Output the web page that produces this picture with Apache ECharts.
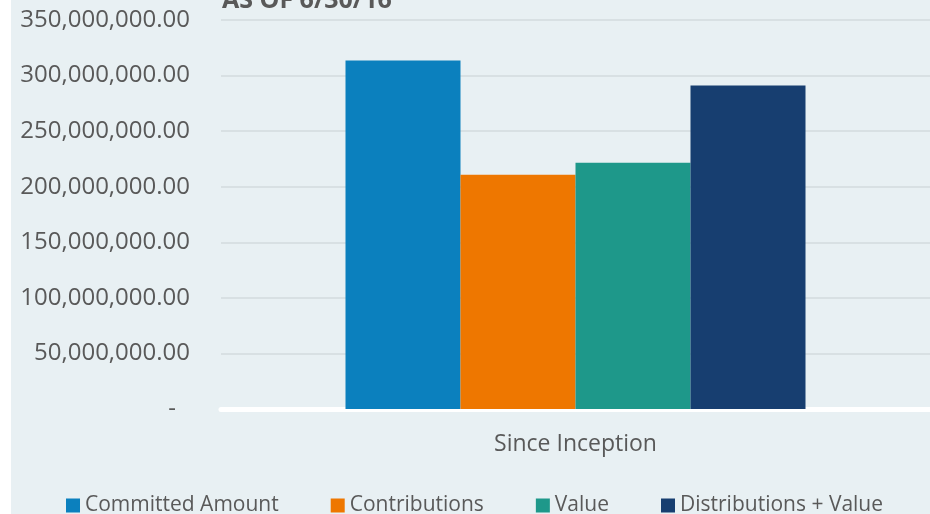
<!DOCTYPE html>
<html>
<head>
<meta charset="utf-8">
<script src="https://cdn.jsdelivr.net/npm/echarts@6/dist/echarts.min.js"></script>
<style>
  html, body { margin: 0; padding: 0; background: #ffffff; }
  #chart { width: 930px; height: 514px; }
</style>
</head>
<body>
<div id="chart"></div>
<script>
const categories = ['Since Inception'];
const seriesNames = ['Committed Amount', 'Contributions', 'Value', 'Distributions + Value'];
const seriesValues = [313500000, 210800000, 221600000, 291000000];
const colorList = ['#0b80be', '#ee7700', '#1e988a', '#173e70'];
const titleText = 'AS OF 6/30/16';

const fontFamily = '"Open Sans", sans-serif';
const textColor = '#595959';

const fmtMoney = (v) => {
    if (v === 0) return '{dash|-}';
    return v.toLocaleString('en-US', { minimumFractionDigits: 2, maximumFractionDigits: 2 });
};

const series = seriesNames.map((name, i) => ({
    name: name,
    type: 'bar',
    barWidth: 115,
    barGap: '0%',
    itemStyle: { color: colorList[i] },
    data: [seriesValues[i]]
}));

const myChart = echarts.init(document.getElementById('chart'));
const option = {
    backgroundColor: '#ffffff',
    animation: false,
    graphic: [
        {
            type: 'rect',
            z: -10,
            shape: { x: 11, y: 0, width: 919, height: 514 },
            style: { fill: '#e8f0f3' }
        }
    ],
    title: {
        text: titleText,
        left: 217,
        top: -17,
        textStyle: {
            color: textColor,
            fontFamily: fontFamily,
            fontSize: 25,
            fontWeight: 'bold'
        }
    },
    legend: {
        data: seriesNames,
        bottom: -7,
        left: 61,
        itemWidth: 14,
        itemHeight: 14,
        itemGap: 52,
        icon: 'rect',
        textStyle: {
            color: textColor,
            fontFamily: fontFamily,
            fontSize: 21
        }
    },
    grid: {
        left: 221,
        right: 0,
        top: 20,
        bottom: 105
    },
    xAxis: {
        type: 'category',
        data: categories,
        axisLine: { show: true, lineStyle: { color: '#ffffff', width: 5 } },
        axisTick: { show: false },
        axisLabel: {
            color: textColor,
            fontFamily: fontFamily,
            fontSize: 23,
            margin: 24
        }
    },
    yAxis: {
        type: 'value',
        min: 0,
        max: 350000000,
        interval: 50000000,
        axisLine: { show: false },
        axisTick: { show: false },
        splitLine: { lineStyle: { color: '#d8e0e3', width: 2 } },
        axisLabel: {
            color: textColor,
            fontFamily: fontFamily,
            fontSize: 24,
            margin: 31,
            formatter: fmtMoney,
            rich: {
                dash: {
                    color: textColor,
                    fontFamily: fontFamily,
                    fontSize: 24,
                    padding: [0, 14, 0, 0]
                }
            }
        }
    },
    series: series
};
myChart.setOption(option);
</script>
</body>
</html>
